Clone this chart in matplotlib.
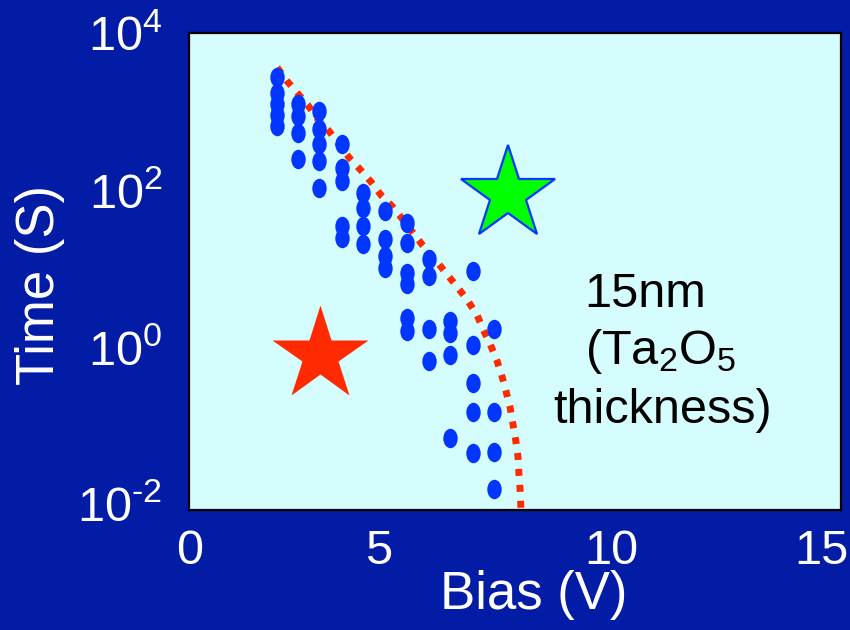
import matplotlib
matplotlib.use("Agg")
import matplotlib.pyplot as plt
from matplotlib.path import Path
from matplotlib.transforms import Affine2D, ScaledTranslation
import numpy as np

plt.rcParams['font.family'] = ['Liberation Sans', 'DejaVu Sans']
plt.rcParams['mathtext.fontset'] = 'custom'
plt.rcParams['mathtext.rm'] = 'Liberation Sans'
plt.rcParams['mathtext.it'] = 'Liberation Sans:italic'
plt.rcParams['mathtext.bf'] = 'Liberation Sans:bold'

# measured breakdown times (log10 of seconds) per bias column
bias_cols = [2.07, 2.57, 3.06, 3.61, 4.11, 4.63, 5.15, 5.68, 6.18, 6.72, 7.22]
log_times = [
    [3.44, 3.23, 3.09, 2.96, 2.82],
    [3.10, 2.94, 2.72, 2.39],
    [3.00, 2.78, 2.58, 2.37, 2.02],
    [2.59, 2.28, 2.11, 1.54, 1.39],
    [1.96, 1.77, 1.54, 1.31],
    [1.73, 1.37, 1.16, 1.00],
    [1.58, 1.32, 0.94, 0.80, 0.37, 0.20],
    [1.12, 0.90, 0.22, -0.18],
    [0.33, 0.17, -0.11, -1.17],
    [0.97, 0.02, -0.46, -0.83, -1.36],
    [0.22, -0.83, -1.34, -1.81],
]

# fitted boundary (red dotted)
fit_v = [2.07, 2.30, 2.54, 2.80, 3.02, 3.30, 3.78, 4.04, 4.30, 4.54, 4.82, 5.04,
         5.30, 5.53, 5.80, 6.03, 6.32, 6.58, 6.82, 6.96, 7.13, 7.29, 7.41, 7.51,
         7.60, 7.67, 7.74, 7.79, 7.81, 7.84, 7.86]
fit_log = [3.56, 3.39, 3.24, 3.08, 2.91, 2.75, 2.41, 2.26, 2.10, 1.93, 1.78, 1.63,
           1.45, 1.29, 1.13, 0.97, 0.78, 0.60, 0.40, 0.22, 0.03, -0.18, -0.38, -0.58,
           -0.77, -0.99, -1.21, -1.41, -1.61, -1.83, -2.08]

# stars: (bias, log time)
red_star = (3.08, -0.10)
green_star = (7.54, 1.945)

ytick_vals = [1e-2, 1e0, 1e2, 1e4]
ytick_labels = [r'$10^{\text{-}2}$', r'$10^{0}$', r'$10^{2}$', r'$10^{4}$']
xtick_vals = [0, 5, 10, 15]

bg = '#031ca5'
plot_bg = '#d5fdfd'
dot_blue = '#0036ff'
red = '#ff2a00'

fig = plt.figure(figsize=(8.5, 6.3), dpi=100, facecolor=bg)
ax = fig.add_axes([189 / 850, 120 / 630, 652 / 850, 477 / 630])
ax.set_facecolor(plot_bg)

# elliptical marker for the data dots
ell = Affine2D().scale(0.74, 1.0).transform_path(Path.unit_circle())

ax.plot(fit_v, 10 ** np.array(fit_log), color=red, lw=5,
        linestyle=(0, (1, 1.3)), dash_capstyle='butt', zorder=2)

for v, logs in zip(bias_cols, log_times):
    ax.plot([v] * len(logs), 10 ** np.array(logs), linestyle='none',
            marker=ell, markersize=14, color=dot_blue, mec='none', zorder=3)

ax.plot(red_star[0], 10 ** red_star[1], marker='*', markersize=72,
        color=red, mec='none', zorder=4)
ax.plot(green_star[0], 10 ** green_star[1], marker='*', markersize=71,
        color='#00ff00', mec=dot_blue, mew=1.6, zorder=4)

ax.set_yscale('log')
ax.set_xlim(-0.024, 15.46)
ax.set_ylim(10 ** -2.083, 10 ** 3.978)
ax.set_yticks(ytick_vals)
ax.set_yticklabels(ytick_labels)
ax.minorticks_off()
ax.set_xticks(xtick_vals)
ax.set_xticklabels([str(x) for x in xtick_vals])
ax.tick_params(axis='both', length=0, labelcolor='white', labelsize=35)
ax.tick_params(axis='y', pad=19)
ax.tick_params(axis='x', pad=14)

# the "5" label sits a bit left of its tick in the original slide
lbl5 = ax.get_xticklabels()[1]
lbl5.set_transform(lbl5.get_transform() + ScaledTranslation(-0.22, 0, fig.dpi_scale_trans))

for s in ax.spines.values():
    s.set_color('black')
    s.set_linewidth(1.6)

ax.set_xlabel('Bias (V)', color='white', fontsize=38)
ax.xaxis.set_label_coords(0.528, -0.125)
ax.set_ylabel('Time (S)', color='white', fontsize=38)
ax.yaxis.set_label_coords(-0.19, 0.472)

ax.text(0.699, 0.426, '15nm', transform=ax.transAxes, ha='center',
        va='baseline', fontsize=35, color='black')
ax.text(0.724, 0.306, r'(Ta$_2$O$_5$', transform=ax.transAxes, ha='center',
        va='baseline', fontsize=35, color='black')
ax.text(0.727, 0.182, 'thickness)', transform=ax.transAxes, ha='center',
        va='baseline', fontsize=35, color='black')

fig.savefig('out.png', dpi=100, facecolor=bg)
